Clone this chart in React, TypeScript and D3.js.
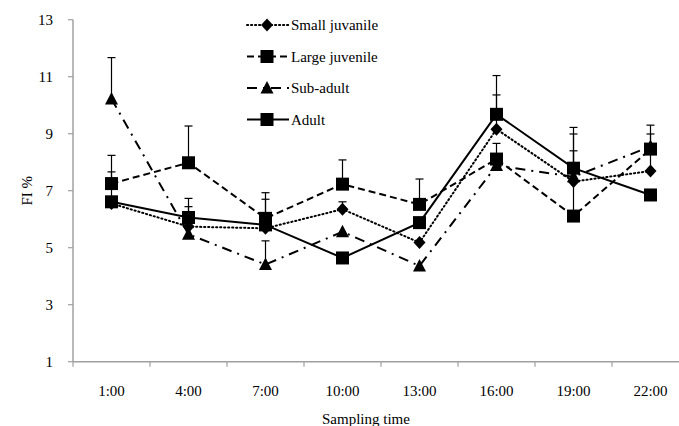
import React, { useRef, useEffect } from 'react';
import * as d3 from 'd3';

const times = ['1:00', '4:00', '7:00', '10:00', '13:00', '16:00', '19:00', '22:00'];
const yTicks = [1, 3, 5, 7, 9, 11, 13];

const smallJuv = [6.55, 5.74, 5.68, 6.35, 5.18, 9.16, 7.32, 7.69];
const smallJuvErr = [7.66, 6.44, 6.7, 6.61, null, 10.36, 8.4, 8.99];
const largeJuv = [7.25, 7.98, 6.03, 7.23, 6.52, 8.11, 6.11, 8.46];
const largeJuvErr = [8.24, 9.27, 6.93, 8.08, 7.41, 8.66, 8.99, 9.3];
const subAdult = [10.22, 5.47, 4.41, 5.56, 4.36, 7.88, 7.49, 8.55];
const subAdultErr = [11.67, 6.73, 5.24, null, null, null, 9.22, null];
const adult = [6.61, 6.06, 5.8, 4.64, 5.88, 9.68, 7.79, 6.85];
const adultErr = [null, null, null, null, null, 11.04, null, null];

const seriesNames = ['Small juvanile', 'Large juvenile', 'Sub-adult', 'Adult'];

const App = () => {
  const ref = useRef(null);

  useEffect(() => {
    const svg = d3.select(ref.current);
    svg.selectAll('*').remove();

    const width = 679;
    const height = 426;
    const font = "'Liberation Serif', 'Times New Roman', Times, 'DejaVu Serif', serif";
    const axisColor = '#a0a0a0';

    const series = [
      { name: seriesNames[0], values: smallJuv, err: smallJuvErr, dash: '1.2,2.8', cap: 'round', marker: 'diamond' },
      { name: seriesNames[1], values: largeJuv, err: largeJuvErr, dash: '7,4', cap: 'butt', marker: 'square' },
      { name: seriesNames[2], values: subAdult, err: subAdultErr, dash: '10,6,2,6', cap: 'butt', marker: 'triangle' },
      { name: seriesNames[3], values: adult, err: adultErr, dash: null, cap: 'butt', marker: 'square' },
    ];

    const x = d3.scaleBand().domain(times).range([73, 689]).padding(0);
    const y = d3.scaleLinear().domain([1, 13]).range([361.7, 19.7]);
    const cx = (t) => x(t) + x.bandwidth() / 2;

    const txt = (sel) => sel.style('font-family', font).style('font-size', '15px').attr('fill', '#000');

    // axes
    const g = svg.append('g');
    g.append('line').attr('x1', 73).attr('x2', 73).attr('y1', y(13)).attr('y2', y(1))
      .attr('stroke', axisColor).attr('stroke-width', 1.5);
    g.append('line').attr('x1', 73).attr('x2', 689).attr('y1', y(1)).attr('y2', y(1))
      .attr('stroke', axisColor).attr('stroke-width', 1.5);
    yTicks.forEach(v => {
      g.append('line').attr('x1', 68).attr('x2', 73).attr('y1', y(v)).attr('y2', y(v))
        .attr('stroke', axisColor).attr('stroke-width', 1.2);
      g.append('text').attr('x', 53).attr('y', y(v)).attr('dy', '0.35em').attr('text-anchor', 'end')
        .call(txt).text(v);
    });
    times.forEach(t => {
      g.append('line').attr('x1', x(t)).attr('x2', x(t)).attr('y1', y(1)).attr('y2', y(1) + 5)
        .attr('stroke', axisColor).attr('stroke-width', 1.2);
      g.append('text').attr('x', cx(t)).attr('y', 391).attr('dy', '0.35em').attr('text-anchor', 'middle')
        .call(txt).text(t);
    });
    g.append('text').attr('x', 366).attr('y', 419).attr('dy', '0.35em').attr('text-anchor', 'middle')
      .call(txt).text('Sampling time');
    g.append('text').attr('transform', `translate(27,${y(7)}) rotate(-90)`).attr('dy', '0.35em')
      .attr('text-anchor', 'middle').call(txt).text('FI %');

    const drawMarker = (sel, type, px, py) => {
      if (type === 'square') {
        sel.append('rect').attr('x', px - 6.5).attr('y', py - 6.5).attr('width', 13).attr('height', 13).attr('fill', '#000');
      } else if (type === 'diamond') {
        sel.append('path').attr('d', `M${px},${py - 6.5}L${px + 6},${py}L${px},${py + 6.5}L${px - 6},${py}Z`).attr('fill', '#000');
      } else {
        sel.append('path').attr('d', `M${px},${py - 7}L${px + 6.5},${py + 5.5}L${px - 6.5},${py + 5.5}Z`).attr('fill', '#000');
      }
    };

    // error bars
    const eg = svg.append('g');
    series.forEach(s => {
      s.err.forEach((e, i) => {
        if (e == null) return;
        const px = cx(times[i]);
        eg.append('line').attr('x1', px).attr('x2', px).attr('y1', y(s.values[i])).attr('y2', y(e))
          .attr('stroke', '#000').attr('stroke-width', 1.2);
        eg.append('line').attr('x1', px - 4).attr('x2', px + 4).attr('y1', y(e)).attr('y2', y(e))
          .attr('stroke', '#000').attr('stroke-width', 1.2);
      });
    });

    // lines + markers
    const line = d3.line().x((d, i) => cx(times[i])).y(d => y(d));
    series.forEach(s => {
      const sg = svg.append('g');
      sg.append('path').attr('d', line(s.values)).attr('fill', 'none').attr('stroke', '#000')
        .attr('stroke-width', 2).attr('stroke-dasharray', s.dash).attr('stroke-linecap', s.cap);
      s.values.forEach((v, i) => drawMarker(sg, s.marker, cx(times[i]), y(v)));
    });

    // legend
    const lg = svg.append('g');
    series.forEach((s, i) => {
      const ly = 25 + i * 31.5;
      lg.append('line').attr('x1', 247).attr('x2', 289).attr('y1', ly).attr('y2', ly)
        .attr('stroke', '#000').attr('stroke-width', 2).attr('stroke-dasharray', s.dash).attr('stroke-linecap', s.cap);
      drawMarker(lg, s.marker, 267, ly);
      lg.append('text').attr('x', 291).attr('y', ly).attr('dy', '0.35em').call(txt).text(s.name);
    });

    svg.attr('viewBox', `0 0 ${width} ${height}`);
  }, []);

  return (
    <svg ref={ref} width={679} height={426}
      style={{ position: 'absolute', left: 0, top: 0, background: '#fff' }} />
  );
};

export default App;
